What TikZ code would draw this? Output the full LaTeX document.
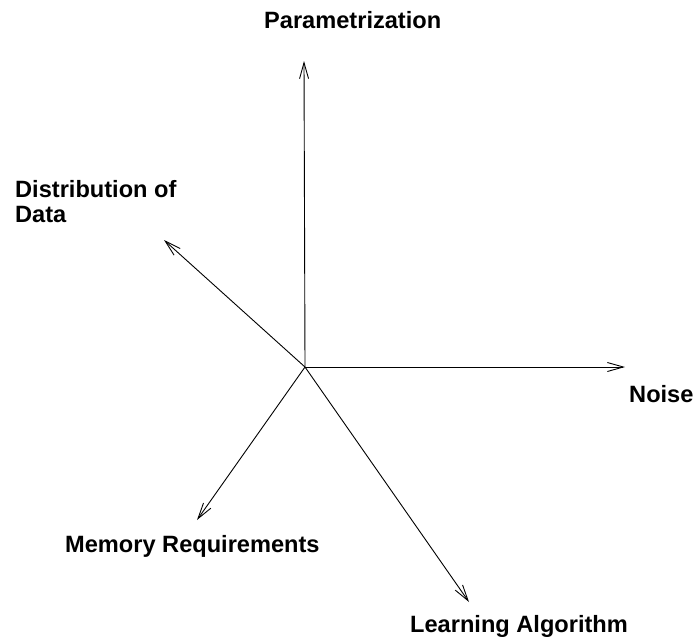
\documentclass[tikz,border=0pt]{standalone}
\usepackage{fontspec}
\setmainfont{Liberation Sans}
\usetikzlibrary{arrows.meta}
\begin{document}
\begin{tikzpicture}[x=1pt,y=-1pt,
  axis/.style={line width=0.9pt,-{Straight Barb[length=16pt,width=9pt,line width=0.9pt]}},
  lab/.style={inner sep=0pt,font=\fontsize{23.6}{25}\selectfont\bfseries,align=left}]
\useasboundingbox (0,0) rectangle (695,638);
\coordinate (O) at (305,367);
\coordinate (up) at (304,61);
\coordinate (ul) at (164,240);
\coordinate (rt) at (625,367);
\coordinate (dl) at (197,520);
\coordinate (dr) at (469,602);
\draw[axis] (O) -- (up);
\draw[axis] (O) -- (ul);
\draw[axis] (O) -- (rt);
\draw[axis] (O) -- (dl);
\draw[axis] (O) -- (dr);
\node[lab,anchor=base west] (param) at (264,28) {Parametrization};
\node[lab,anchor=base west] (dist) at (15,197) {Distribution of};
\node[lab,anchor=base west] (data) at (15,222) {Data};
\node[lab,anchor=base west] (noise) at (629,402) {Noise};
\node[lab,anchor=base west] (mem) at (65,552) {Memory Requirements};
\node[lab,anchor=base west] (learn) at (410,632) {Learning Algorithm};
\end{tikzpicture}
\end{document}
